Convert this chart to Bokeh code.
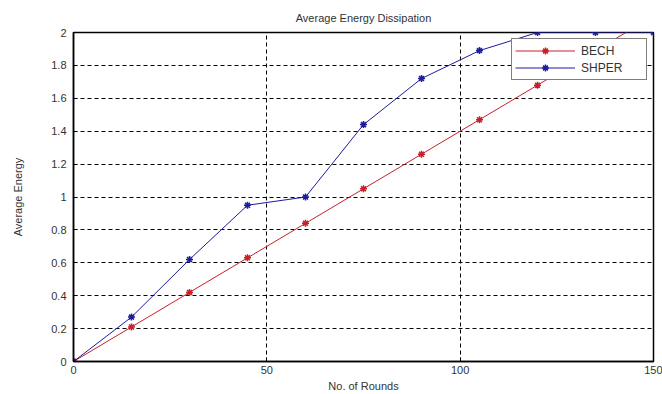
from bokeh.plotting import figure
from bokeh.models import Range1d, FixedTicker, Legend, LegendItem
from bokeh.embed import file_html
from bokeh.resources import INLINE

rounds = [0, 15, 30, 45, 60, 75, 90, 105, 120, 135, 150]
bech = [0, 0.21, 0.42, 0.63, 0.84, 1.05, 1.26, 1.47, 1.68, 1.89, 2.10]
shper = [0, 0.27, 0.62, 0.95, 1.00, 1.44, 1.72, 1.89, 2.00, 2.00, 2.00]
x_ticks = [0, 50, 100, 150]
y_ticks = [0, 0.2, 0.4, 0.6, 0.8, 1.0, 1.2, 1.4, 1.6, 1.8, 2.0]
y_labels = ["0", "0.2", "0.4", "0.6", "0.8", "1", "1.2", "1.4", "1.6", "1.8", "2"]

FONT = "Liberation Sans"
RED = "#c8202a"
BLUE = "#1c1c9c"

p = figure(width=662, height=394, output_backend="svg", toolbar_location=None,
           x_range=Range1d(0, 150), y_range=Range1d(0, 2),
           min_border_left=73, min_border_right=9, min_border_top=32, min_border_bottom=31,
           title="Average Energy Dissipation")
p.title.align = "center"
p.title.text_font = FONT
p.title.text_font_size = "11px"
p.title.text_font_style = "normal"
p.title.text_color = "#333333"
p.title.standoff = 18

p.outline_line_color = "black"
p.outline_line_width = 1.5
p.outline_line_alpha = 1

l1 = p.line(rounds, bech, color=RED, line_width=1)
m1 = p.scatter(rounds, bech, marker="asterisk", size=7, line_color=RED, line_width=1.5)
l2 = p.line(rounds, shper, color=BLUE, line_width=1)
m2 = p.scatter(rounds, shper, marker="asterisk", size=7, line_color=BLUE, line_width=1.5)

for ax in (p.xaxis[0], p.yaxis[0]):
    ax.axis_line_color = "black"
    ax.axis_line_width = 1.5
    ax.major_tick_in = 4
    ax.major_tick_out = 0
    ax.minor_tick_line_color = None
    ax.major_label_text_font = FONT
    ax.major_label_text_font_size = "11px"
    ax.major_label_text_color = "#333333"
    ax.axis_label_text_font = FONT
    ax.axis_label_text_font_size = "11px"
    ax.axis_label_text_font_style = "normal"
    ax.axis_label_text_color = "#333333"

p.xaxis.ticker = FixedTicker(ticks=x_ticks)
p.yaxis.ticker = FixedTicker(ticks=y_ticks)
p.yaxis.major_label_overrides = {t: s for t, s in zip(y_ticks, y_labels)}
p.xaxis.axis_label = "No. of Rounds"
p.yaxis.axis_label = "Average Energy"
p.xaxis.major_label_standoff = 4
p.xaxis.axis_label_standoff = 3
p.yaxis.major_label_standoff = 7
p.yaxis.axis_label_standoff = 24

p.grid.grid_line_color = "black"
p.grid.grid_line_dash = "4 3"
p.grid.grid_line_width = 1
p.xgrid.ticker = FixedTicker(ticks=[50, 100])
p.ygrid.ticker = FixedTicker(ticks=y_ticks[1:-1])

legend = Legend(items=[LegendItem(label="BECH", renderers=[l1, m1]),
                       LegendItem(label="SHPER", renderers=[l2, m2])],
                location="top_right")
legend.label_text_font = FONT
legend.label_text_font_size = "12px"
legend.label_text_color = "#333333"
legend.border_line_color = "black"
legend.border_line_width = 1
legend.background_fill_alpha = 1
legend.glyph_width = 60
legend.glyph_height = 17
legend.label_height = 17
legend.label_width = 62
legend.spacing = 0
legend.padding = 3
legend.margin = 6
legend.label_standoff = 6
p.add_layout(legend)

html = file_html(p, INLINE)
open("out.html", "w").write(html)
